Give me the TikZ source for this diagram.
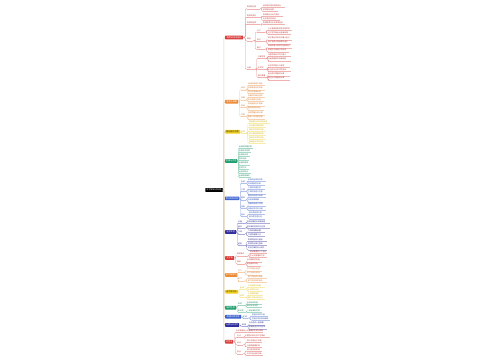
\documentclass[tikz,border=0pt]{standalone}
\usepackage{fontspec}
\setmainfont{Noto Sans CJK SC}
\usetikzlibrary{calc}
\definecolor{cR}{HTML}{DA3B3B}
\definecolor{cO}{HTML}{EC8A36}
\definecolor{cY}{HTML}{F0CF1E}
\definecolor{cG}{HTML}{1F9E6E}
\definecolor{cB}{HTML}{3D62CF}
\definecolor{cI}{HTML}{2F2C9C}
\definecolor{trunkc}{HTML}{E2D2B4}
\tikzset{
  l1/.style={fill=#1, text=white, anchor=west, inner xsep=0pt, inner ysep=0pt,
    minimum height=3.6pt, font=\fontsize{2.1}{2.3}\selectfont, rounded corners=0.4pt},
  lf/.style={anchor=west, inner xsep=0pt, inner ysep=0.35pt, align=left,
    font=\fontsize{1.8}{2.1}\selectfont},
  ul/.style={draw=#1!40, line width=0.25pt},
  cl/.style={draw=#1!55, line width=0.35pt, rounded corners=1pt},
  trunk/.style={draw=trunkc, line width=0.5pt, rounded corners=1pt}
}
\newcommand\Lone[6][text=white]{% opt, name, y, width, color, text
  \node[l1=#5, #1, minimum width=#4pt] (#2) at (225,#3) {#6};
  \draw[trunk] (root.east) -| ($(root.east)!.5!(#2.west)$) |- (#2.west);}
\newcommand\Nd[6]{% name, x, y, width, color, text
  \node[lf, text=#5!85!black, text width=#4pt] (#1) at (#2,#3) {#6};
  \draw[ul=#5] (#1.south west) -- (#1.south east);}
\newcommand\Cn[3]{% from, to, color
  \draw[cl=#3] (#1) -| ($(#1)!.5!(#2)$) |- (#2);}
\begin{document}
\begin{tikzpicture}[x=1pt,y=-1pt]
\path[fill=white,use as bounding box] (0,0) rectangle (500,360);
\node[fill=black, text=white, inner sep=0pt, minimum width=17.5pt, minimum height=3.6pt,
  font=\fontsize{2.1}{2.3}\selectfont, rounded corners=0.4pt] (root) at (214,190) {化学知识点总结};
% ---------- branch 1
\Lone{b1}{37.5}{18}{cR}{物质的组成结构}
\Nd{b1a}{247}{7.3}{13}{cR}{物质的分类}
\Nd{b1a1}{263}{5.7}{22}{cR}{纯净物与混合物的区分}
\Nd{b1a2}{263}{10}{15}{cR}{单质和化合物}
\Nd{b1b}{247}{16}{13}{cR}{物质的变化}
\Nd{b1b1}{263}{15}{20}{cR}{物理变化与化学变化}
\Nd{b1b2}{263}{19}{17}{cR}{化学变化的特征}
\Nd{b1c}{247}{23}{13}{cR}{物质的性质}
\Nd{b1c1}{263}{23}{22}{cR}{物理性质与化学性质区别}
\Nd{b1d}{247}{39.3}{6}{cR}{微粒}
\Nd{b1d1}{257}{30.7}{8}{cR}{分子}
\Nd{b1d1a}{268}{29}{24}{cR}{分子是保持物质化学性质的}
\Nd{b1d1b}{268}{32.7}{23}{cR}{分子在不断运动且有间隔}
\Nd{b1d2}{257}{40}{8}{cR}{原子}
\Nd{b1d2a}{268}{38.3}{24}{cR}{原子是化学变化中最小粒子}
\Nd{b1d2b}{268}{42.3}{23}{cR}{原子由原子核和核外电子}
\Nd{b1d3}{257}{47.7}{8}{cR}{离子}
\Nd{b1d3a}{268}{46.3}{24}{cR}{带电的原子或原子团叫离子}
\Nd{b1d3b}{268}{50.3}{21}{cR}{阳离子与阴离子的形成}
\Nd{b1e}{247}{67.7}{8}{cR}{元素}
\Nd{b1e1}{258}{56.7}{9}{cR}{元素符号}
\Nd{b1e1a}{268}{55}{23}{cR}{元素符号的书写与意义}
\Nd{b1e1b}{268}{59.3}{23}{cR}{元素周期表的简单结构}
\Nd{b1e2}{258}{67.7}{9}{cR}{化学式}
\Nd{b1e2a}{268}{65.7}{22}{cR}{化学式的意义与读写}
\Nd{b1e2b}{268}{70}{23}{cR}{化合价与化学式的关系}
\Nd{b1e3}{258}{76}{9}{cR}{相对质量}
\Nd{b1e3a}{268}{74.3}{22}{cR}{相对原子质量的计算}
\Nd{b1e3b}{268}{78.3}{22}{cR}{相对分子质量的计算}
\foreach \c in {b1a,b1b,b1c,b1d,b1e}{\Cn{b1.east}{\c.south west}{cR}}
\Cn{b1a.south east}{b1a1.south west}{cR}\Cn{b1a.south east}{b1a2.south west}{cR}
\Cn{b1b.south east}{b1b1.south west}{cR}\Cn{b1b.south east}{b1b2.south west}{cR}
\Cn{b1c.south east}{b1c1.south west}{cR}
\foreach \c in {b1d1,b1d2,b1d3}{\Cn{b1d.south east}{\c.south west}{cR}
  \Cn{\c.south east}{\c a.south west}{cR}\Cn{\c.south east}{\c b.south west}{cR}}
\foreach \c in {b1e1,b1e2,b1e3}{\Cn{b1e.south east}{\c.south west}{cR}
  \Cn{\c.south east}{\c a.south west}{cR}\Cn{\c.south east}{\c b.south west}{cR}}
% ---------- branch 2
\Lone{b2}{101.7}{13}{cO}{溶液与溶解}
\Nd{b2a}{241}{88.3}{5}{cO}{溶液}
\Nd{b2a1}{248}{84}{17}{cO}{溶液的组成与特征}
\Nd{b2a2}{248}{88.3}{17}{cO}{溶质和溶剂的判断}
\Nd{b2a3}{248}{92.2}{16}{cO}{常见的溶液实例}
\Nd{b2b}{241}{98.3}{5}{cO}{溶解}
\Nd{b2b1}{248}{96}{17}{cO}{溶解时的吸热放热}
\Nd{b2b2}{248}{100}{16}{cO}{乳化现象与应用}
\Nd{b2c}{241}{106}{5}{cO}{饱和}
\Nd{b2c1}{248}{104.3}{17}{cO}{饱和溶液与不饱和}
\Nd{b2c2}{248}{108.3}{16}{cO}{两者的相互转化}
\Nd{b2d}{241}{115}{5}{cO}{浓度}
\Nd{b2d1}{248}{113.3}{17}{cO}{溶质质量分数计算}
\Nd{b2d2}{248}{117.3}{17}{cO}{配制一定浓度溶液}
\foreach \c in {b2a,b2b,b2c,b2d}{\Cn{b2.east}{\c.south west}{cO}}
\foreach \c in {b2a1,b2a2,b2a3}{\Cn{b2a.south east}{\c.south west}{cO}}
\foreach \p in {b2b,b2c,b2d}{\Cn{\p.south east}{\p1.south west}{cO}\Cn{\p.south east}{\p2.south west}{cO}}
% ---------- branch 3
\Lone[text=black!80]{b3}{131.7}{15}{cY}{酸碱盐的性质}
\Nd{b3a}{241}{131.7}{5}{cY}{性质}
\Nd{b3a1}{249}{121.7}{21}{cY}{酸碱盐知识的综合应用}
\Nd{b3a2}{249}{125.7}{17}{cY}{常见酸的物理性质}
\Nd{b3a3}{249}{129.7}{17}{cY}{酸的化学性质归纳}
\Nd{b3a4}{249}{133.7}{17}{cY}{常见碱的物理性质}
\Nd{b3a5}{249}{137.7}{17}{cY}{碱的化学性质归纳}
\Nd{b3a6}{249}{141.7}{17}{cY}{酸碱指示剂的变色}
\Cn{b3.east}{b3a.south west}{cY}
\foreach \i in {1,...,6}{\Cn{b3a.south east}{b3a\i.south west}{cY}}
% ---------- branch 4
\Lone{b4}{161}{12}{cG}{金属与合金}
\Nd{b4a1}{239}{146.7}{14}{cG}{金属的物理性质}
\Nd{b4a2}{239}{150.8}{12}{cG}{金属化学性质}
\Nd{b4a3}{239}{155}{11}{cG}{金属活动性}
\Nd{b4a4}{239}{159.1}{10}{cG}{铁的冶炼}
\Nd{b4a5}{239}{163.3}{11}{cG}{金属的锈蚀}
\Nd{b4a6}{239}{167.4}{10}{cG}{防锈方法}
\Nd{b4a7}{239}{171.6}{12}{cG}{合金的特点}
\Nd{b4a8}{239}{175.7}{12}{cG}{金属资源保护}
\foreach \i in {1,...,8}{\Cn{b4.east}{b4a\i.south west}{cG}}
% ---------- branch 5
\Lone{b5}{198.3}{14}{cB}{常见的有机物}
\Nd{b5a}{241}{182}{5}{cB}{甲烷}
\Nd{b5a1}{248}{179.7}{18}{cB}{甲烷的组成和性质}
\Nd{b5a2}{248}{184}{17}{cB}{甲烷燃烧的现象}
\Nd{b5b}{241}{190}{5}{cB}{乙醇}
\Nd{b5b1}{248}{188}{17}{cB}{乙醇的物理性质}
\Nd{b5b2}{248}{192.3}{18}{cB}{乙醇的用途与危害}
\Nd{b5c}{241}{198.3}{5}{cB}{糖类}
\Nd{b5c1}{248}{196}{18}{cB}{糖类的组成与来源}
\Nd{b5c2}{248}{200.3}{15}{cB}{淀粉和葡萄糖}
\Nd{b5d}{241}{206.7}{5}{cB}{油脂}
\Nd{b5d1}{248}{204.3}{18}{cB}{油脂的组成与作用}
\Nd{b5d2}{248}{208.7}{18}{cB}{油脂在体内的代谢}
\Nd{b5e}{241}{215}{5}{cB}{蛋白}
\Nd{b5e1}{249}{213}{16}{cB}{蛋白质组成元素}
\Nd{b5e2}{249}{217.3}{16}{cB}{蛋白质生理功能}
\foreach \p in {b5a,b5b,b5c,b5d,b5e}{\Cn{b5.east}{\p.south west}{cB}
  \Cn{\p.south east}{\p1.south west}{cB}\Cn{\p.south east}{\p2.south west}{cB}}
% ---------- branch 6
\Lone{b6}{232}{11}{cI}{化学实验}
\Nd{b6a}{238}{221.7}{7}{cI}{仪器}
\Nd{b6a1}{247}{221.7}{23}{cI}{常用仪器的名称和用途}
\Nd{b6b}{238}{226.5}{7}{cI}{操作}
\Nd{b6b1}{247}{226.5}{23}{cI}{基本操作的规范与注意}
\Nd{b6c}{238}{232.3}{7}{cI}{气体}
\Nd{b6c1}{248}{230.5}{17}{cI}{气体的制取装置}
\Nd{b6c2}{248}{234.5}{17}{cI}{气体的收集方法}
\Nd{b6d}{238}{244}{7}{cI}{鉴别}
\Nd{b6d1}{248}{240}{19}{cI}{物质的检验与鉴别}
\Nd{b6d2}{248}{244}{19}{cI}{物质的分离与提纯}
\Nd{b6d3}{248}{248.3}{19}{cI}{实验方案的设计评价}
\foreach \p in {b6a,b6b,b6c,b6d}{\Cn{b6.east}{\p.south west}{cI}}
\Cn{b6a.south east}{b6a1.south west}{cI}
\Cn{b6b.south east}{b6b1.south west}{cI}
\Cn{b6c.south east}{b6c1.south west}{cI}\Cn{b6c.south east}{b6c2.south west}{cI}
\foreach \i in {1,2,3}{\Cn{b6d.south east}{b6d\i.south west}{cI}}
% ---------- branch 7
\Lone{b7}{258}{9}{cR}{化学能}
\Nd{b7a}{237}{254.3}{11}{cR}{燃烧条件}
\Nd{b7a1}{250}{252}{17}{cR}{燃烧需要的三个条件}
\Nd{b7a2}{250}{256}{17}{cR}{灭火的原理和方法}
\Nd{b7b}{237}{262.3}{8}{cR}{燃料}
\Nd{b7b1}{247}{260.3}{15}{cR}{化石燃料的利用}
\Nd{b7b2}{247}{264.3}{14}{cR}{新能源的开发}
\foreach \p in {b7a,b7b}{\Cn{b7.east}{\p.south west}{cR}
  \Cn{\p.south east}{\p1.south west}{cR}\Cn{\p.south east}{\p2.south west}{cR}}
% ---------- branch 8
\Lone{b8}{275}{12}{cO}{空气和氧气}
\Nd{b8a}{238}{271}{5}{cO}{空气}
\Nd{b8a1}{247}{269.3}{15}{cO}{空气的成分组成}
\Nd{b8a2}{247}{273.3}{15}{cO}{空气污染与防治}
\Nd{b8b}{238}{279.3}{7}{cO}{氧气}
\Nd{b8b1}{248}{277}{19}{cO}{氧气的性质与用途}
\Nd{b8b2}{248}{281}{19}{cO}{氧气的实验室制法}
\foreach \p in {b8a,b8b}{\Cn{b8.east}{\p.south west}{cO}
  \Cn{\p.south east}{\p1.south west}{cO}\Cn{\p.south east}{\p2.south west}{cO}}
% ---------- branch 9
\Lone[text=black!80]{b9}{291.7}{13}{cY}{自然界的水}
\Nd{b9a}{240}{287.5}{6}{cY}{组成}
\Nd{b9a1}{248}{285.7}{17}{cY}{水的组成与电解}
\Nd{b9a2}{248}{289.5}{15}{cY}{水的净化方法}
\Nd{b9b}{240}{296}{6}{cY}{资源}
\Nd{b9b1}{248}{294}{15}{cY}{水资源的保护}
\Nd{b9b2}{248}{298}{17}{cY}{硬水与软水的区分}
\foreach \p in {b9a,b9b}{\Cn{b9.east}{\p.south west}{cY}
  \Cn{\p.south east}{\p1.south west}{cY}\Cn{\p.south east}{\p2.south west}{cY}}
% ---------- branch 10
\Lone{b10}{307.7}{11}{cG}{碳的性质}
\Nd{b10a}{238}{304}{7}{cG}{单质}
\Nd{b10a1}{247}{302.3}{15}{cG}{金刚石和石墨}
\Nd{b10a2}{247}{306}{15}{cG}{碳的化学性质}
\Nd{b10b}{238}{310.7}{7}{cG}{氧化物}
\Nd{b10b1}{247}{310.7}{15}{cG}{二氧化碳的性质}
\foreach \p in {b10a,b10b}{\Cn{b10.east}{\p.south west}{cG}}
\Cn{b10a.south east}{b10a1.south west}{cG}\Cn{b10a.south east}{b10a2.south west}{cG}
\Cn{b10b.south east}{b10b1.south west}{cG}
% ---------- branch 11
\Lone{b11}{316.7}{16}{cB}{质量守恒定律}
\Nd{b11a}{243}{316.7}{5}{cB}{定律}
\Nd{b11a1}{252}{315}{16}{cB}{质量守恒的内容}
\Nd{b11a2}{252}{318.7}{18}{cB}{质量守恒的微观解释}
\Cn{b11.east}{b11a.south west}{cB}
\Cn{b11a.south east}{b11a1.south west}{cB}\Cn{b11a.south east}{b11a2.south west}{cB}
% ---------- branch 12
\Lone{b12}{325}{14}{cI}{元素与化合价}
\Nd{b12a}{242}{325}{5}{cI}{规律}
\Nd{b12a1}{249}{323.3}{16}{cI}{化合价的一般规律}
\Nd{b12a2}{249}{327.3}{18}{cI}{根据化合价写化学式}
\Cn{b12.east}{b12a.south west}{cI}
\Cn{b12a.south east}{b12a1.south west}{cI}\Cn{b12a.south east}{b12a2.south west}{cI}
% ---------- branch 13
\Lone{b13}{341.7}{8}{cR}{化学史}
\Nd{b13a}{236}{331}{27}{cR}{化学发展史上的重要科学家与成就}
\Nd{b13b}{237}{336}{6}{cR}{古代}
\Nd{b13b1}{245}{336}{25}{cR}{中国古代的化学工艺成就}
\Nd{b13c}{237}{343.3}{6}{cR}{近代}
\Nd{b13c1}{247}{341}{15}{cR}{原子论和分子学说}
\Nd{b13c2}{247}{345.5}{15}{cR}{元素周期律发现}
\Nd{b13d}{237}{352.3}{6}{cR}{现代}
\Nd{b13d1}{247}{349.7}{15}{cR}{现代化学的发展}
\Nd{b13d2}{247}{354}{16}{cR}{化学与社会的关系}
\foreach \p in {b13a,b13b,b13c,b13d}{\Cn{b13.east}{\p.south west}{cR}}
\Cn{b13b.south east}{b13b1.south west}{cR}
\Cn{b13c.south east}{b13c1.south west}{cR}\Cn{b13c.south east}{b13c2.south west}{cR}
\Cn{b13d.south east}{b13d1.south west}{cR}\Cn{b13d.south east}{b13d2.south west}{cR}
\end{tikzpicture}
\end{document}
